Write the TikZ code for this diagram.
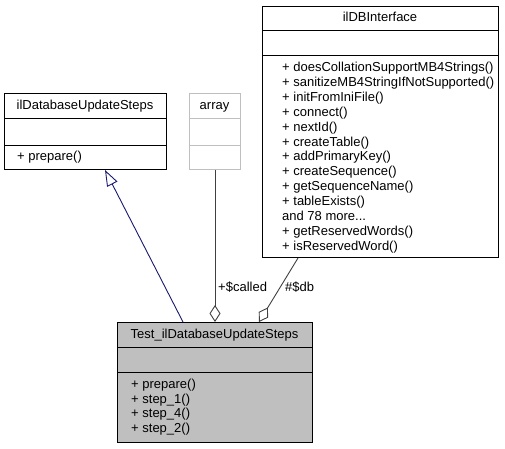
\documentclass[tikz,border=0pt]{standalone}
\usepackage{fontspec}
\setmainfont{Liberation Sans}
\usetikzlibrary{arrows.meta,calc}
\definecolor{edgegrey}{HTML}{404040}
\definecolor{boxgrey}{HTML}{BFBFBF}
\definecolor{navyedge}{HTML}{191970}
\newcommand{\moredots}{...}
\begin{document}
\begin{tikzpicture}[x=1pt,y=-1pt,
  font=\fontsize{13}{15}\selectfont,
  umlbox/.style={draw=black, line width=1pt, fill=white, inner sep=0pt, anchor=north west},
  txt/.style={inner sep=0pt, text height=9.5pt, text depth=2.5pt},
  lefttxt/.style={txt, anchor=west},
  divider/.style={line width=1pt},
  usage/.style={draw=edgegrey, line width=0.9pt, -{Diamond[open, length=17pt, width=11pt]}},
  inherit/.style={draw=navyedge, line width=0.9pt, -{Triangle[open, length=16pt, width=11.5pt]}}]
\useasboundingbox (0,0) rectangle (505,448);

% ilDatabaseUpdateSteps
\node[umlbox, minimum width=162pt, minimum height=76pt] (base) at (4,93) {};
\draw[divider] ($(base.north west)+(0,25)$) -- ($(base.north east)+(0,25)$);
\draw[divider] ($(base.north west)+(0,52)$) -- ($(base.north east)+(0,52)$);
\node[txt] (baset) at (85,105.5) {ilDatabaseUpdateSteps};
\node[lefttxt] (basem) at (17,157) {+ prepare()};

% array
\node[umlbox, draw=boxgrey, minimum width=51pt, minimum height=76pt] (arr) at (189,93) {};
\draw[divider, boxgrey] ($(arr.north west)+(0,25)$) -- ($(arr.north east)+(0,25)$);
\draw[divider, boxgrey] ($(arr.north west)+(0,52)$) -- ($(arr.north east)+(0,52)$);
\node[txt] (arrt) at (214.5,105.5) {array};

% ilDBInterface
\node[umlbox, minimum width=236pt, minimum height=251pt] (dbi) at (262,6) {};
\draw[divider] ($(dbi.north west)+(0,24)$) -- ($(dbi.north east)+(0,24)$);
\draw[divider] ($(dbi.north west)+(0,49)$) -- ($(dbi.north east)+(0,49)$);
\node[txt] (dbit) at (380,18) {ilDBInterface};
\foreach \t [count=\i from 0] in {%
  + doesCollationSupportMB4Strings(),
  + sanitizeMB4StringIfNotSupported(),
  + initFromIniFile(),
  + connect(),
  + nextId(),
  + createTable(),
  + addPrimaryKey(),
  + createSequence(),
  + getSequenceName(),
  + tableExists(),
  and 78 more\moredots,
  + getReservedWords(),
  + isReservedWord()}
  \node[lefttxt] (dbim\i) at (282,68+14.9*\i) {\t};

% Test_ilDatabaseUpdateSteps
\node[umlbox, fill=boxgrey, minimum width=195pt, minimum height=120pt] (test) at (117,322) {};
\draw[divider] ($(test.north west)+(0,25)$) -- ($(test.north east)+(0,25)$);
\draw[divider] ($(test.north west)+(0,50)$) -- ($(test.north east)+(0,50)$);
\node[txt] (testt) at (214.5,334.5) {Test\_ilDatabaseUpdateSteps};
\foreach \t [count=\i from 0] in {+ prepare(), + step\_1(), + step\_4(), + step\_2()}
  \node[lefttxt] (testm\i) at (131,385+14.5*\i) {\t};

% connectors
\draw[inherit] ($(test.north west)+(66,0)$) -- ($(base.south west)+(101,0)$);
\draw[usage] (arr.south) -- (arr.south |- test.north);
\draw[usage] ($(dbi.south west)+(36,0)$) -- ($(test.north west)+(142,0)$);
\node[lefttxt] (lcalled) at (218,288) {+\$called};
\node[lefttxt] (ldb) at (285,288) {\#\$db};
\end{tikzpicture}
\end{document}
